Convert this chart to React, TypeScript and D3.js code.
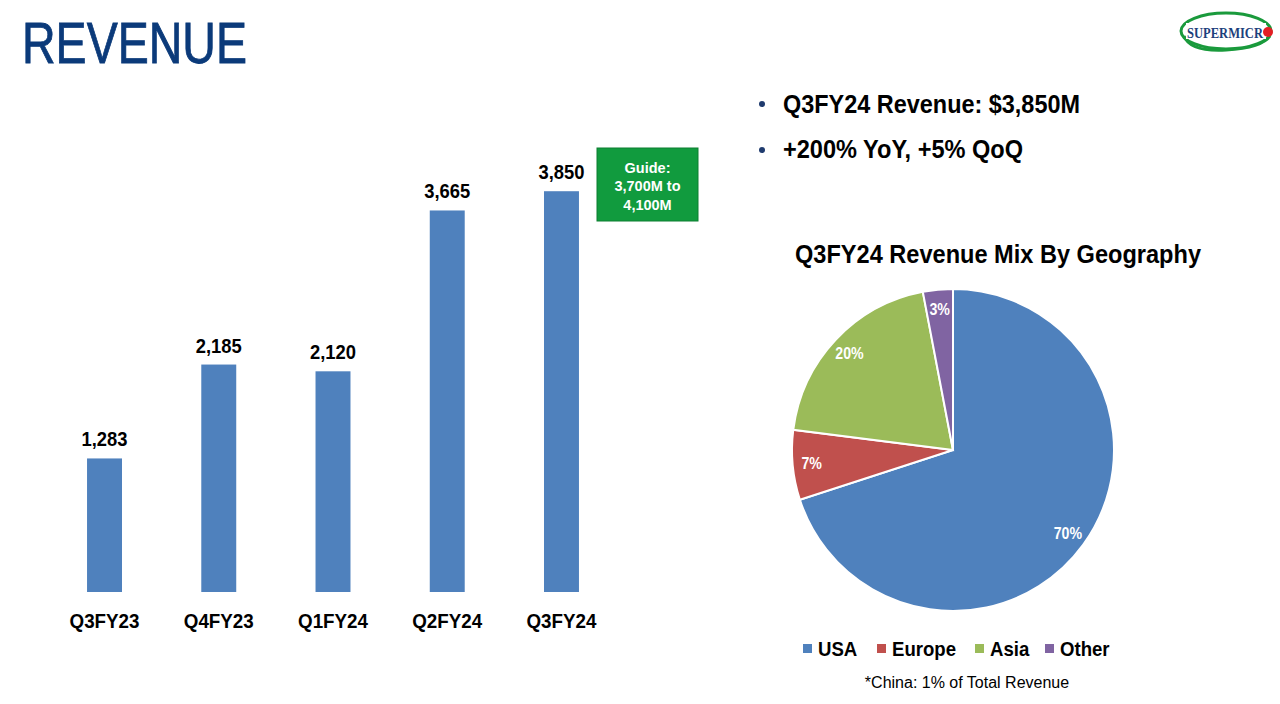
import React from "react";
import * as d3 from "d3";

const categories = ["Q3FY23", "Q4FY23", "Q1FY24", "Q2FY24", "Q3FY24"];
const revenue = [1283, 2185, 2120, 3665, 3850];

const regions = ["USA", "Europe", "Asia", "Other"];
const regionShare = [70, 7, 20, 3];
const regionColors = ["#4f81bd", "#c0504d", "#9bbb59", "#8064a2"];

const bullets = ["Q3FY24 Revenue: $3,850M", "+200% YoY, +5% QoQ"];
const guideLines = ["Guide:", "3,700M to", "4,100M"];

const FONT = "'Liberation Sans', Arial, sans-serif";

function CText({ x, y, sx = 1, size, weight = "bold", fill = "#000", anchor = "middle", children }: any) {
  return (
    <text
      transform={`translate(${x},${y}) scale(${sx},1)`}
      fontFamily={FONT}
      fontSize={size}
      fontWeight={weight}
      fill={fill}
      textAnchor={anchor}
    >
      {children}
    </text>
  );
}

export default function App() {
  const x = d3
    .scaleBand<string>()
    .domain(categories)
    .range([47.4, 618.6])
    .paddingInner(0.694)
    .paddingOuter(0.347);
  const y = d3.scaleLinear().domain([0, 4000]).range([592, 175.6]);

  const pie = d3
    .pie<number>()
    .sort(null)
    .value((d) => d)
    .startAngle(0)
    .endAngle(Math.PI * 2);
  const arcs = pie(regionShare);
  const R = 161;
  const arc = d3.arc<d3.PieArcDatum<number>>().innerRadius(0).outerRadius(R);
  const labelArc = d3.arc<d3.PieArcDatum<number>>().innerRadius(142).outerRadius(142);
  const cx = 953;
  const cy = 450;

  const legendX = [803, 877, 975, 1045];

  return (
    <svg
      width={1280}
      height={704}
      style={{ position: "absolute", left: 0, top: 0, background: "#fff" }}
    >
      <rect x={0} y={0} width={1280} height={704} fill="#fff" />
      {/* Title */}
      <text
        x={22}
        y={63}
        fontFamily={FONT}
        fontSize={57}
        fill="#0b3a7a"
        stroke="#0b3a7a"
        strokeWidth={0.8}
        textLength={225}
        lengthAdjust="spacingAndGlyphs"
      >
        REVENUE
      </text>

      {/* Logo */}
      <g>
        <ellipse cx={1226} cy={31} rx={45} ry={18} fill="none" stroke="#1a9a3c" strokeWidth={3} />
        <path d="M1184,36 Q1190,52 1226,50 Q1262,48 1270,36" fill="none" stroke="#1a9a3c" strokeWidth={3} />
        <rect x={1186} y={23} width={80} height={16} fill="#fff" />
        <text
          x={1187}
          y={38}
          fontFamily="'Liberation Serif', 'DejaVu Serif', serif"
          fontWeight="bold"
          fontSize={14}
          fill="#1d3f7c"
          textLength={76}
          lengthAdjust="spacingAndGlyphs"
        >
          SUPERMICR
        </text>
        <circle cx={1268} cy={32} r={5} fill="#e31e24" />
      </g>

      {/* Bars */}
      {revenue.map((v, i) => {
        const bx = x(categories[i])!;
        return (
          <g key={categories[i]}>
            <rect x={bx} y={y(v)} width={x.bandwidth()} height={y(0) - y(v)} fill="#4f81bd" />
            <CText x={bx + x.bandwidth() / 2} y={y(v) - 12} size={20} sx={0.92}>
              {d3.format(",")(v)}
            </CText>
            <CText x={bx + x.bandwidth() / 2} y={628} size={20} sx={0.94}>
              {categories[i]}
            </CText>
          </g>
        );
      })}

      {/* Guide box */}
      <rect x={597} y={148} width={101} height={73} fill="#119b3e" stroke="#0c7f30" strokeWidth={1} />
      {guideLines.map((t, i) => (
        <CText key={t} x={647.5} y={172.5 + i * 18.5} size={14.5} fill="#fff">
          {t}
        </CText>
      ))}

      {/* Bullets */}
      {bullets.map((t, i) => (
        <g key={t}>
          <circle cx={762} cy={104 + i * 46} r={3} fill="#1f3b6e" />
          <text
            x={783}
            y={113 + i * 45}
            fontFamily={FONT}
            fontWeight="bold"
            fontSize={26}
            fill="#000"
            textLength={i === 0 ? 297 : 240}
            lengthAdjust="spacingAndGlyphs"
          >
            {t}
          </text>
        </g>
      ))}

      {/* Pie title */}
      <text
        x={795}
        y={263}
        fontFamily={FONT}
        fontWeight="bold"
        fontSize={25}
        fill="#000"
        textLength={406}
        lengthAdjust="spacingAndGlyphs"
      >
        Q3FY24 Revenue Mix By Geography
      </text>

      {/* Pie */}
      <g transform={`translate(${cx},${cy})`}>
        {arcs.map((a, i) => (
          <path key={regions[i]} d={arc(a)!} fill={regionColors[i]} stroke="#fff" strokeWidth={2} />
        ))}
        {arcs.map((a, i) => {
          const [lx, ly] = labelArc.centroid(a);
          return (
            <CText key={regions[i]} x={lx} y={ly + 6} size={16.5} sx={0.86} fill="#fff">
              {regionShare[i]}%
            </CText>
          );
        })}
      </g>

      {/* Legend */}
      {regions.map((r, i) => (
        <g key={r}>
          <rect x={legendX[i]} y={644} width={9} height={9} fill={regionColors[i]} />
          <CText x={legendX[i] + 15} y={656} size={20} sx={0.93} anchor="start">
            {r}
          </CText>
        </g>
      ))}

      <text x={967} y={688} fontFamily={FONT} fontSize={16} fill="#000" textAnchor="middle">
        *China: 1% of Total Revenue
      </text>
    </svg>
  );
}
